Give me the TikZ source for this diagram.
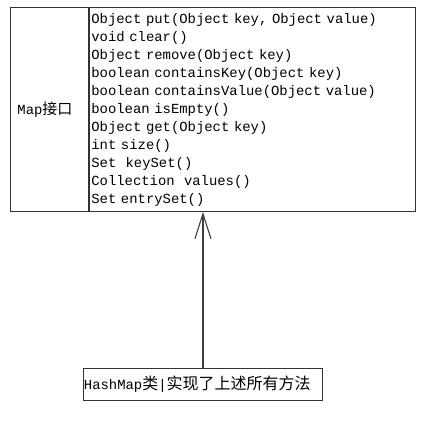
\documentclass[tikz,border=0pt]{standalone}
\usepackage{fontspec}
\setmonofont{Liberation Mono}
\newfontfamily\cjk{Noto Sans CJK SC}
\usetikzlibrary{arrows.meta,positioning}
\newcommand{\zh}[1]{{\fontsize{15}{18}\cjk #1}}
\newcommand{\zhb}[1]{{\fontsize{16}{18}\cjk #1}}

\begin{document}
\begin{tikzpicture}[x=1pt,y=-1pt,
    cell/.style={draw=black!80, line width=0.9pt, inner ysep=0pt, align=left,
      minimum height=204pt, font=\ttfamily\fontsize{13.9}{18}\selectfont},
    implbox/.style={draw=black!80, line width=0.9pt, inner xsep=0.5pt, inner ysep=0pt,
      minimum height=32pt, text width=238pt, align=left,
      font=\ttfamily\fontsize{13.9}{18}\selectfont},
    realize/.style={draw=black!75, line width=1.1pt, -{Straight Barb[length=25pt,width=16pt]}}]
  \useasboundingbox (0,0) rectangle (431,424);
  % Map interface and its methods
  \node[cell, anchor=north west, inner xsep=7pt, text width=64pt] (mapname) at (10,7) {Map\zh{接口}};
  \node[cell, right=0pt of mapname, inner xsep=2pt, text width=322pt] (methods) {Object put(Object key, Object value)\\
    void clear()\\
    Object remove(Object key)\\
    boolean containsKey(Object key)\\
    boolean containsValue(Object value)\\
    boolean isEmpty()\\
    Object get(Object key)\\
    int size()\\
    Set~~keySet()\\
    Collection~~values()\\
    Set entrySet()};
  % Implementing class
  \node[implbox, anchor=north west] (hashmap) at (83,368) {HashMap\zhb{类}|\zhb{实现了上述所有方法}};

  \draw[realize] (hashmap.north) -- (hashmap.north |- methods.south);
\end{tikzpicture}
\end{document}
